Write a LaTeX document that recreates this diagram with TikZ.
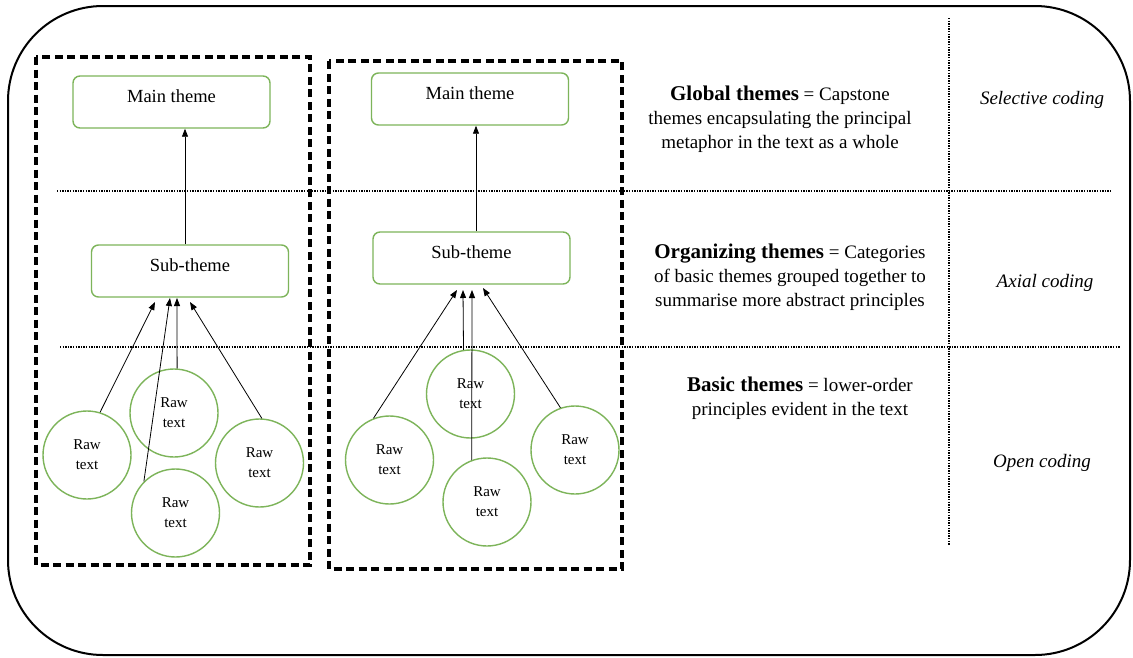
\documentclass[tikz,border=0pt]{standalone}
\usepackage{fontspec}
\setmainfont{Liberation Serif}
\usetikzlibrary{arrows.meta}
\definecolor{boxgreen}{RGB}{125,180,90}
\begin{document}
\begin{tikzpicture}[x=1pt,y=-1pt,
  theme/.style={draw=boxgreen, line width=1.4pt, rounded corners=7pt,
    minimum width=197pt, minimum height=52pt, inner sep=0pt,
    text height=13pt, text depth=13pt,
    font=\fontsize{18.5}{22}\selectfont},
  raw/.style={draw=boxgreen, line width=1.4pt, circle, minimum size=88pt,
    inner sep=0pt, align=center, font=\fontsize{15}{20}\selectfont},
  link/.style={line width=0.8pt, -{Triangle[length=8pt,width=6pt]}},
  frame/.style={line width=3.5pt, dash pattern=on 8pt off 4.5pt},
  sep/.style={line width=1.4pt, dash pattern=on 1.3pt off 1.3pt},
  note/.style={align=center, font=\fontsize{19}{24}\selectfont},
  level/.style={font=\fontsize{19}{24}\selectfont\itshape}
]
\useasboundingbox (0,0) rectangle (1133,657);
\fill[white] (0,0) rectangle (1133,657);

% outer rounded frame
\draw[line width=2pt, rounded corners=95pt] (8,6) rectangle (1130,655);

% level separators
\draw[sep] (57,191) -- (1112,191);
\draw[sep] (60,347) -- (1120,347);
\draw[sep] (949,18) -- (949,545);

% two dashed groups
\draw[frame] (36,57) rectangle (310,565);
\draw[frame] (329,61) rectangle (622,569);

% left group
\node[theme] (main1) at (171.5,102) {Main theme};
\node[theme] (sub1) at (190,271) {Sub-theme};
\node[raw] (c11) at (87,455) {Raw\\text};
\node[raw] (c12) at (174,413) {Raw\\text};
\node[raw] (c13) at (259.5,463) {Raw\\text};
\node[raw] (c14) at (175.5,513) {Raw\\text};

% right group
\node[theme] (main2) at (470,99) {Main theme};
\node[theme] (sub2) at (471.5,258) {Sub-theme};
\node[raw] (c21) at (389.5,460) {Raw\\text};
\node[raw] (c22) at (470.5,394) {Raw\\text};
\node[raw] (c23) at (575,450) {Raw\\text};
\node[raw] (c24) at (487,502) {Raw\\text};

% arrow columns and tips
\coordinate (up1) at (185,0);
\coordinate (up2) at (476,0);
\coordinate (t11) at (155,302);
\coordinate (t14) at (170,298);
\coordinate (t12) at (177,298);
\coordinate (t13) at (190,302);
\coordinate (t21) at (457,290);
\coordinate (t22) at (463,290);
\coordinate (t24) at (472,290);
\coordinate (t23) at (483,288);

\draw[link] (sub1.north -| up1) -- (main1.south -| up1);
\draw[link] (sub2.north -| up2) -- (main2.south -| up2);

\draw[link] (c11.73) -- (t11);
\draw[link] (c14.135) -- (t14);
\draw[link] (c12.86) -- (t12);
\draw[link] (c13.87) -- (t13);

\draw[link] (c21.111) -- (t21);
\draw[link] (c22.99.5) -- (t22);
\draw[link] (c24.110) -- (t24);
\draw[link] (c23.109) -- (t23);

% descriptions
\node[note] (global) at (780,119) {{\fontsize{21}{24}\selectfont\bfseries Global themes} = Capstone\\themes encapsulating the principal\\metaphor in the text as a whole};
\node[note] (organizing) at (790,277) {{\fontsize{21}{24}\selectfont\bfseries Organizing themes} = Categories\\of basic themes grouped together to\\summarise more abstract principles};
\node[note] (basic) at (800,398) {{\fontsize{21}{24}\selectfont\bfseries Basic themes} = lower-order\\principles evident in the text};

% coding levels
\node[level] (selective) at (1042,100) {Selective coding};
\node[level] (axial) at (1045,283) {Axial coding};
\node[level] (open) at (1042,463) {Open coding};
\end{tikzpicture}
\end{document}
